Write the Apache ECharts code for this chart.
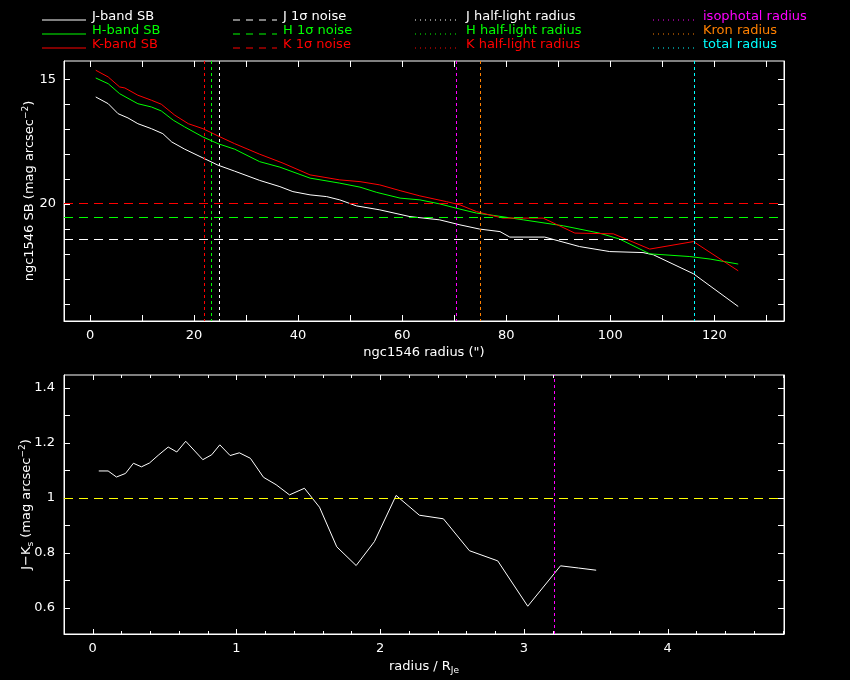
<!DOCTYPE html>
<html>
<head>
<meta charset="utf-8">
<script src="https://cdn.jsdelivr.net/npm/echarts@6/dist/echarts.min.js"></script>
<style>
  html, body { margin: 0; padding: 0; background: #000; }
  #main { width: 850px; height: 680px; }
</style>
</head>
<body>
<div id="main"></div>
<script>
// surface brightness profiles, radius in arcsec
const jRadius = [1.1, 3.5, 5.4, 7.3, 9.2, 11.8, 14.0, 15.7, 18.2, 21.7, 24.6, 27.8, 32.6, 36.5, 39.0, 42.3, 45.5, 48.0, 51.2, 55.7, 61.5, 67.2, 71.1, 74.9, 78.8, 80.7, 87.4, 94.1, 99.9, 106.3, 108.3, 116.0, 124.6]
const jSB = [15.71, 15.98, 16.38, 16.55, 16.78, 16.98, 17.18, 17.51, 17.80, 18.15, 18.44, 18.68, 19.05, 19.30, 19.50, 19.63, 19.70, 19.83, 20.07, 20.23, 20.50, 20.63, 20.83, 21.00, 21.10, 21.32, 21.32, 21.70, 21.90, 21.94, 22.03, 22.79, 24.10]

const hRadius = [1.1, 3.5, 5.7, 9.2, 11.8, 13.7, 16.0, 18.2, 21.7, 24.6, 27.8, 32.6, 36.5, 42.3, 48.0, 51.9, 55.1, 59.6, 63.4, 67.2, 71.1, 74.3, 77.5, 83.3, 91.0, 97.9, 101.8, 107.6, 115.3, 119.2, 124.6]
const hSB = [14.95, 15.18, 15.58, 15.98, 16.11, 16.27, 16.64, 16.91, 17.31, 17.58, 17.80, 18.30, 18.52, 18.96, 19.16, 19.32, 19.53, 19.76, 19.83, 19.99, 20.20, 20.36, 20.45, 20.63, 20.87, 21.16, 21.40, 21.99, 22.10, 22.20, 22.40]

const kRadius = [1.1, 3.5, 5.7, 6.7, 9.2, 11.8, 13.7, 16.3, 18.9, 21.7, 24.6, 27.8, 32.6, 37.1, 42.3, 48.0, 51.9, 55.7, 59.6, 63.4, 68.5, 71.1, 74.3, 77.5, 79.4, 87.1, 93.2, 100.6, 107.6, 116.0, 124.6]
const kSB = [14.64, 14.91, 15.31, 15.35, 15.64, 15.84, 16.00, 16.44, 16.78, 16.98, 17.27, 17.58, 18.00, 18.36, 18.83, 19.03, 19.10, 19.23, 19.46, 19.67, 19.90, 20.03, 20.30, 20.47, 20.56, 20.56, 21.16, 21.19, 21.80, 21.50, 22.67]

// 1 sigma noise levels (mag arcsec^-2)
const noiseJ = 21.39
const noiseH = 20.52
const noiseK = 19.96

// radii (arcsec)
const halfLightJ = 24.8
const halfLightH = 23.3
const halfLightK = 21.9
const isophotalRadius = 70.4
const kronRadius = 75.0
const totalRadius = 116.2

// J-Ks colour profile, radius in units of R_Je
const colourRadius = [0.042, 0.107, 0.165, 0.228, 0.283, 0.339, 0.395, 0.46, 0.525, 0.585, 0.647, 0.766, 0.828, 0.884, 0.956, 1.02, 1.097, 1.188, 1.276, 1.369, 1.473, 1.578, 1.698, 1.833, 1.96, 2.111, 2.273, 2.44, 2.621, 2.818, 3.027, 3.255, 3.38, 3.503]
const colourJK = [1.098, 1.098, 1.076, 1.089, 1.126, 1.113, 1.127, 1.157, 1.185, 1.167, 1.206, 1.139, 1.157, 1.193, 1.154, 1.164, 1.144, 1.075, 1.048, 1.011, 1.035, 0.966, 0.822, 0.754, 0.841, 1.009, 0.937, 0.924, 0.808, 0.771, 0.606, 0.753, 0.745, 0.737]
const colourRef = 1.0
const isophotalRadiusRel = 3.21

// axis ranges
const sbRadiusRange = [-5, 133.4]
const sbRange = [14.27, 24.68]
const relRadiusRange = [-0.2, 4.81]
const colourRange = [0.505, 1.447]

// tick values and labels
const sbRadiusTicks = [0, 10, 20, 30, 40, 50, 60, 70, 80, 90, 100, 110, 120, 130]
const sbRadiusLabels = [0, 20, 40, 60, 80, 100, 120]
const sbTicks = [15, 16, 17, 18, 19, 20, 21, 22, 23, 24]
const sbLabels = [15, 20]
const relRadiusMajor = [0, 1, 2, 3, 4]
const relRadiusMinor = [0.2, 0.4, 0.6, 0.8, 1.2, 1.4, 1.6, 1.8, 2.2, 2.4, 2.6, 2.8, 3.2, 3.4, 3.6, 3.8, 4.2, 4.4, 4.6, 4.8]
const colourTicks = [0.6, 0.7, 0.8, 0.9, 1, 1.1, 1.2, 1.3, 1.4]
const colourLabels = [0.6, 0.8, 1, 1.2, 1.4]

const FONT = 'DejaVu Sans'
const WHITE = '#ffffff'
const GREEN = '#00ff00'
const RED = '#ff0000'
const MAGENTA = '#ff00ff'
const ORANGE = '#ff8000'
const CYAN = '#00ffff'
const YELLOW = '#ffff00'
const DASH = [9, 6]
const DOT = [3, 3]

const zip = (xs, ys) => xs.map((x, i) => [x, ys[i]])

const richText = {
  t: { color: WHITE, fontSize: 13, fontFamily: FONT },
  sup: { color: WHITE, fontSize: 9, fontFamily: FONT, padding: [0, 0, 8, 0] },
  sub: { color: WHITE, fontSize: 9, fontFamily: FONT, padding: [8, 0, 0, 0] }
}

function axisBase(extra) {
  return Object.assign({
    type: 'value',
    axisLine: { show: true, onZero: false, lineStyle: { color: WHITE, width: 1 } },
    splitLine: { show: false },
    axisTick: { show: false },
    nameMoveOverlap: false,
    axisLabel: { show: true, color: WHITE, fontSize: 13, fontFamily: FONT, margin: 8 }
  }, extra)
}

function ticks(values, len) {
  return { show: true, inside: true, interval: 0, length: len, customValues: values, lineStyle: { color: WHITE, width: 1 } }
}

function labels(values, margin) {
  return { show: true, color: WHITE, fontSize: 13, fontFamily: FONT, margin: margin, interval: 0, customValues: values }
}

function mirror(axis, position) {
  return Object.assign({}, axis, {
    position: position,
    name: '',
    axisLabel: { show: false }
  })
}

const xTop = axisBase({
  gridIndex: 0, position: 'bottom', min: sbRadiusRange[0], max: sbRadiusRange[1],
  axisLabel: labels(sbRadiusLabels, 8),
  name: '{t|ngc1546 radius (")}', nameLocation: 'middle', nameGap: 25,
  nameTextStyle: { rich: richText }
})
const yTop = axisBase({
  gridIndex: 0, position: 'left', min: sbRange[0], max: sbRange[1], inverse: true,
  axisTick: ticks(sbTicks, 6),
  axisLabel: labels(sbLabels, 8),
  name: '{t|ngc1546 SB (mag arcsec}{sup|−2}{t|)}', nameLocation: 'middle', nameGap: 26,
  nameTextStyle: { rich: richText }
})
const xBot = axisBase({
  gridIndex: 1, position: 'bottom', min: relRadiusRange[0], max: relRadiusRange[1],
  axisLabel: labels(relRadiusMajor, 8),
  name: '{t|radius / R}{sub|Je}', nameLocation: 'middle', nameGap: 24,
  nameTextStyle: { rich: richText }
})
const yBot = axisBase({
  gridIndex: 1, position: 'left', min: colourRange[0], max: colourRange[1],
  axisTick: ticks(colourTicks, 6),
  axisLabel: labels(colourLabels, 9),
  name: '{t|J−K}{sub|s}{t| (mag arcsec}{sup|−2}{t|)}', nameLocation: 'middle', nameGap: 29,
  nameTextStyle: { rich: richText }
})

function sbLine(name, radius, sb, color, noise, halfLight) {
  return {
    name: name, type: 'line', xAxisIndex: 0, yAxisIndex: 0,
    data: zip(radius, sb), showSymbol: false, symbol: 'none',
    lineStyle: { color: color, width: 1 },
    markLine: {
      silent: true, symbol: ['none', 'none'], label: { show: false },
      lineStyle: { color: color, width: 1 },
      data: [
        { yAxis: noise, lineStyle: { color: color, type: DASH } },
        { xAxis: halfLight, lineStyle: { color: color, type: DOT } }
      ]
    }
  }
}

// legend entries drawn as graphic elements
const legendRows = [16, 30, 44]
const legendItems = [
  { col: 0, row: 0, text: 'J-band SB', color: WHITE, dash: null },
  { col: 0, row: 1, text: 'H-band SB', color: GREEN, dash: null },
  { col: 0, row: 2, text: 'K-band SB', color: RED, dash: null },
  { col: 1, row: 0, text: 'J 1σ noise', color: WHITE, dash: [7, 6] },
  { col: 1, row: 1, text: 'H 1σ noise', color: GREEN, dash: [7, 6] },
  { col: 1, row: 2, text: 'K 1σ noise', color: RED, dash: [7, 6] },
  { col: 2, row: 0, text: 'J half-light radius', color: WHITE, dash: [1, 4] },
  { col: 2, row: 1, text: 'H half-light radius', color: GREEN, dash: [1, 4] },
  { col: 2, row: 2, text: 'K half-light radius', color: RED, dash: [1, 4] },
  { col: 3, row: 0, text: 'isophotal radius', color: MAGENTA, dash: [1, 4] },
  { col: 3, row: 1, text: 'Kron radius', color: ORANGE, dash: [1, 4] },
  { col: 3, row: 2, text: 'total radius', color: CYAN, dash: [1, 4] }
]
const legendCols = [
  { x1: 42, x2: 86, tx: 92 },
  { x1: 233, x2: 277, tx: 283 },
  { x1: 415, x2: 457, tx: 466 },
  { x1: 653, x2: 694, tx: 703 }
]
const legendGraphic = []
legendItems.forEach(it => {
  const c = legendCols[it.col]
  const y = legendRows[it.row]
  legendGraphic.push({
    type: 'line', silent: true,
    shape: { x1: c.x1, y1: y + 4, x2: c.x2, y2: y + 4 },
    style: { stroke: it.color, lineWidth: 1, lineDash: it.dash }
  })
  legendGraphic.push({
    type: 'text', silent: true, x: c.tx, y: y + 1,
    style: { text: it.text, fill: it.color, font: '13px "' + FONT + '"', verticalAlign: 'middle' }
  })
})

var myChart = echarts.init(document.getElementById('main'))
myChart.setOption({
  backgroundColor: '#000000',
  animation: false,
  grid: [
    { left: 64, top: 61, right: 66, height: 260, show: true, borderColor: WHITE, borderWidth: 1, backgroundColor: 'transparent' },
    { left: 64, top: 375, right: 66, height: 259, show: true, borderColor: WHITE, borderWidth: 1, backgroundColor: 'transparent' }
  ],
  xAxis: [xTop, xBot],
  yAxis: [yTop, mirror(yTop, 'right'), yBot, mirror(yBot, 'right')],
  graphic: legendGraphic,
  series: [
    sbLine('J-band SB', jRadius, jSB, WHITE, noiseJ, halfLightJ),
    sbLine('H-band SB', hRadius, hSB, GREEN, noiseH, halfLightH),
    sbLine('K-band SB', kRadius, kSB, RED, noiseK, halfLightK),
    {
      name: 'radii', type: 'line', xAxisIndex: 0, yAxisIndex: 0, data: [],
      markLine: {
        silent: true, symbol: ['none', 'none'], label: { show: false },
        data: [
          { xAxis: isophotalRadius, lineStyle: { color: MAGENTA, width: 1, type: DOT } },
          { xAxis: kronRadius, lineStyle: { color: ORANGE, width: 1, type: DOT } },
          { xAxis: totalRadius, lineStyle: { color: CYAN, width: 1, type: DOT } }
        ]
      }
    },
    {
      name: 'J-Ks', type: 'line', xAxisIndex: 1, yAxisIndex: 2,
      data: zip(colourRadius, colourJK), showSymbol: false, symbol: 'none',
      lineStyle: { color: WHITE, width: 1 },
      markLine: {
        silent: true, symbol: ['none', 'none'], label: { show: false },
        data: [
          { yAxis: colourRef, lineStyle: { color: YELLOW, width: 1, type: DASH } },
          { xAxis: isophotalRadiusRel, lineStyle: { color: MAGENTA, width: 1, type: DOT } }
        ]
      }
    }
  ]
})

// inward x ticks on the top and bottom frame edges, placed with the chart's own scales
const tickGraphic = []
function edgeTicks(finder, values, range, len) {
  values.forEach(v => {
    const a = myChart.convertToPixel(finder, [v, range[0]])
    const b = myChart.convertToPixel(finder, [v, range[1]])
    const x = Math.round(a[0]) + 0.5
    const yLow = Math.max(a[1], b[1])
    const yHigh = Math.min(a[1], b[1])
    tickGraphic.push({ type: 'line', silent: true, z: 10, shape: { x1: x, y1: yLow, x2: x, y2: yLow - len }, style: { stroke: WHITE, lineWidth: 1 } })
    tickGraphic.push({ type: 'line', silent: true, z: 10, shape: { x1: x, y1: yHigh, x2: x, y2: yHigh + len }, style: { stroke: WHITE, lineWidth: 1 } })
  })
}
edgeTicks({ xAxisIndex: 0, yAxisIndex: 0 }, sbRadiusTicks, sbRange, 6)
edgeTicks({ xAxisIndex: 1, yAxisIndex: 2 }, relRadiusMajor, colourRange, 5)
edgeTicks({ xAxisIndex: 1, yAxisIndex: 2 }, relRadiusMinor, colourRange, 3)
myChart.setOption({ graphic: legendGraphic.concat(tickGraphic) })
</script>
</body>
</html>
